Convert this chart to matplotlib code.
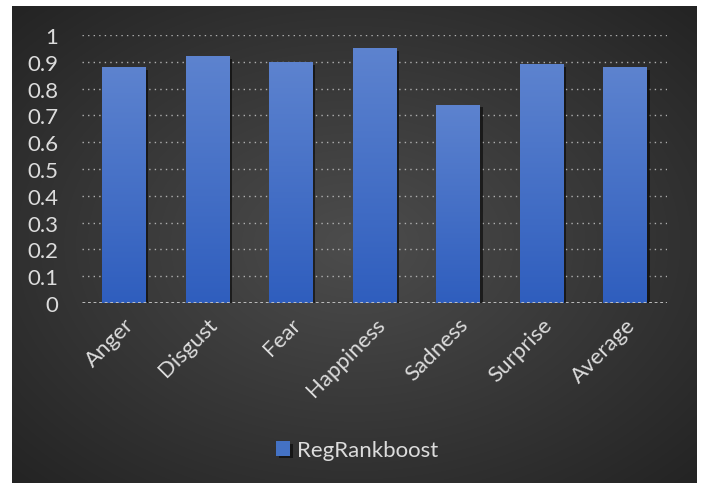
import numpy as np
import matplotlib.pyplot as plt
import matplotlib.patheffects as pe

categories = ['Anger', 'Disgust', 'Fear', 'Happiness', 'Sadness', 'Surprise', 'Average']
regrankboost = [0.88, 0.92, 0.90, 0.95, 0.74, 0.89, 0.88]
yticks = [0, 0.1, 0.2, 0.3, 0.4, 0.5, 0.6, 0.7, 0.8, 0.9, 1]
ytick_labels = ['0', '0.1', '0.2', '0.3', '0.4', '0.5', '0.6', '0.7', '0.8', '0.9', '1']

plt.rcParams['font.family'] = ['Lato', 'DejaVu Sans']
text_col = '#dcdcdc'

W, H = 703, 489
fig = plt.figure(figsize=(W / 100, H / 100), dpi=100)
fig.patch.set_facecolor('white')

# dark panel with radial gradient
bg = fig.add_axes([12 / W, 5 / H, 685 / W, 477 / H])
yy, xx = np.mgrid[-1:1:300j, -1:1:400j]
r = np.sqrt(xx ** 2 + yy ** 2) / np.sqrt(2)
shade = 0.30 - 0.16 * r
img = np.dstack([shade, shade, shade])
bg.imshow(img, aspect='auto', extent=[0, 1, 0, 1], interpolation='bilinear')
bg.set_axis_off()

ax = fig.add_axes([82 / W, (H - 304) / H, 585 / W, 268 / H])
ax.patch.set_alpha(0)
x = np.arange(len(categories))
bars = ax.bar(x, regrankboost, width=0.52, color='#4472c4', zorder=3,
              path_effects=[pe.withSimplePatchShadow(offset=(2, -2), shadow_rgbFace='black', alpha=0.55)])

# vertical gradient on each bar
grad = np.linspace(0, 1, 256).reshape(-1, 1)
top = np.array([0x5d, 0x83, 0xcf]) / 255
bot = np.array([0x2f, 0x5e, 0xbe]) / 255
gimg = (bot + (top - bot) * grad[:, :, None]).reshape(256, 1, 3)
for b in bars:
    x0, y0 = b.get_x(), b.get_y()
    im = ax.imshow(gimg, aspect='auto', origin='lower', zorder=4,
                   extent=[x0, x0 + b.get_width(), y0, y0 + b.get_height()])
    im.set_clip_path(b)

ax.set_xlim(-0.5, len(categories) - 0.5)
ax.set_ylim(0, 1)
ax.set_yticks(yticks)
ax.set_yticklabels(ytick_labels)
ax.set_xticks(x)
ax.set_xticklabels(categories, rotation=45, ha='right', rotation_mode='anchor')
ax.tick_params(axis='both', length=0, colors=text_col, labelsize=16)
ax.tick_params(axis='y', pad=17)
ax.tick_params(axis='x', pad=8)
for s in ax.spines.values():
    s.set_visible(False)
ax.yaxis.grid(True, linestyle=(0, (1, 3)), color='#b0b0b0', linewidth=1, zorder=1)
ax.axhline(0, color='#c8c8c8', linestyle=(0, (1, 1)), linewidth=2, zorder=5)

leg = fig.legend([bars], ['RegRankboost'], loc='center', bbox_to_anchor=(357 / W, 1 - 451 / H),
                 frameon=False, fontsize=16, handlelength=0.65, handleheight=0.65, handletextpad=0.3)
for t in leg.get_texts():
    t.set_color(text_col)

fig.savefig('out.png', dpi=100)
